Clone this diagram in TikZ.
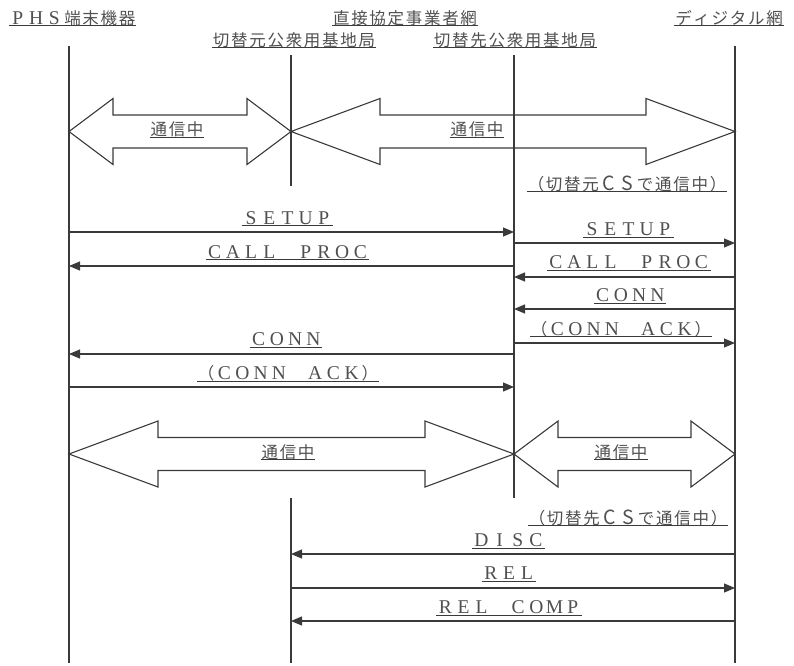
\documentclass[tikz,border=0pt]{standalone}
\usepackage{fontspec}
\setmainfont{Liberation Serif}
\newfontfamily\jpf{Noto Sans CJK JP}
\usetikzlibrary{arrows.meta}
\definecolor{txt}{HTML}{505050}
\definecolor{ln}{HTML}{3A3A3A}
\newlength\cellw \setlength\cellw{18.2pt}
\makeatletter
\def\fwl#1{\fwl@x#1\fwl@end}
\def\fwl@end{\fwl@end}
\def\fwl@x#1{\ifx#1\fwl@end\else\makebox[\cellw]{#1}\expandafter\fwl@x\fi}
\makeatother
\newcommand\lat{\fontsize{19.5}{19.5}\selectfont}
\newcommand\jp{\jpf\fontsize{16.5}{16.5}\selectfont}
\newcommand\ulx[1]{\sbox0{#1}\rlap{\color{ln}\rule[-2.2pt]{\wd0}{0.9pt}}\usebox0}
\begin{document}
\begin{tikzpicture}[x=1pt,y=-1pt,
  life/.style={draw=ln,line width=1.1pt},
  msg/.style={draw=ln,line width=1.1pt,-{Triangle[length=11pt,width=9pt]}},
  big/.style={draw=ln,line width=1.1pt,line join=miter},
  lbl/.style={text=txt,inner sep=0pt,anchor=base}]
\useasboundingbox (0,0) rectangle (794,665);
% lifelines
\coordinate (phsT) at (69,46);  \coordinate (phsB) at (69,663);
\coordinate (digT) at (735,46); \coordinate (digB) at (735,663);
\coordinate (csaT) at (291,55); \coordinate (csaM) at (291,186);
\coordinate (csaU) at (291,498); \coordinate (csaB) at (291,663);
\coordinate (csbT) at (514,55); \coordinate (csbB) at (514,498);
\draw[life] (phsT) -- (phsB);
\draw[life] (digT) -- (digB);
\draw[life] (csaT) -- (csaM);
\draw[life] (csaU) -- (csaB);
\draw[life] (csbT) -- (csbB);
% headers
\node[lbl] (hPHS) at (72.5,24) {\ulx{{\lat\fwl{PHS}}{\jp\fwl{端末機器}}}};
\node[lbl] (hNet) at (405,24) {\ulx{\jp\fwl{直接協定事業者網}}};
\node[lbl] (hDig) at (729,24) {\ulx{\jp\fwl{ディジタル網}}};
\node[lbl] (hCSa) at (294,46) {\ulx{\jp\fwl{切替元公衆用基地局}}};
\node[lbl] (hCSb) at (515,46) {\ulx{\jp\fwl{切替先公衆用基地局}}};
% double arrows
\newcommand\dblarrow[4]{%
  \draw[big] (#1,#3) -- (#1+#4,#3-33) -- (#1+#4,#3-16.5) -- (#2-#4,#3-16.5)
    -- (#2-#4,#3-33) -- (#2,#3) -- (#2-#4,#3+33) -- (#2-#4,#3+16.5)
    -- (#1+#4,#3+16.5) -- (#1+#4,#3+33) -- cycle;}
\dblarrow{69}{291}{131.5}{44}
\dblarrow{291}{735}{131.5}{89}
\dblarrow{69}{514}{454}{89}
\dblarrow{514}{735}{454}{44}
\node[lbl] (t1) at (177,135.3) {\ulx{\jp\fwl{通信中}}};
\node[lbl] (t2) at (477,135.3) {\ulx{\jp\fwl{通信中}}};
\node[lbl] (t3) at (288,458) {\ulx{\jp\fwl{通信中}}};
\node[lbl] (t4) at (621,458) {\ulx{\jp\fwl{通信中}}};
\node[lbl] (csA) at (627,190) {\ulx{\jp\fwl{（切替元}{\lat\fwl{CS}}\fwl{で通信中）}}};
\node[lbl] (csB) at (628,524) {\ulx{\jp\fwl{（切替先}{\lat\fwl{CS}}\fwl{で通信中）}}};
% message levels
\coordinate (ySL) at (0,232); \coordinate (yCL) at (0,266);
\coordinate (yNL) at (0,354); \coordinate (yAL) at (0,387);
\coordinate (ySR) at (0,243); \coordinate (yCR) at (0,277);
\coordinate (yNR) at (0,309); \coordinate (yAR) at (0,343);
\coordinate (yD) at (0,554); \coordinate (yR) at (0,588); \coordinate (yRC) at (0,621);
\draw[msg] (phsT |- ySL) -- (csbT |- ySL);
\draw[msg] (csbT |- yCL) -- (phsT |- yCL);
\draw[msg] (csbT |- yNL) -- (phsT |- yNL);
\draw[msg] (phsT |- yAL) -- (csbT |- yAL);
\draw[msg] (csbT |- ySR) -- (digT |- ySR);
\draw[msg] (digT |- yCR) -- (csbT |- yCR);
\draw[msg] (digT |- yNR) -- (csbT |- yNR);
\draw[msg] (csbT |- yAR) -- (digT |- yAR);
\draw[msg] (digT |- yD) -- (csaB |- yD);
\draw[msg] (csaB |- yR) -- (digT |- yR);
\draw[msg] (digT |- yRC) -- (csaB |- yRC);
% message labels
\node[lbl] (lSL) at (287.5,224) {\ulx{\lat\fwl{SETUP}}};
\node[lbl] (lCL) at (287.5,258) {\ulx{\lat\fwl{CALL~PROC}}};
\node[lbl] (lNL) at (286,345.7) {\ulx{\lat\fwl{CONN}}};
\node[lbl] (lAL) at (288,379.7) {\ulx{{\jp\fwl{（}}{\lat\fwl{CONN~ACK}}{\jp\fwl{）}}}};
\node[lbl] (lSR) at (628.5,235.3) {\ulx{\lat\fwl{SETUP}}};
\node[lbl] (lCR) at (628.7,268.3) {\ulx{\lat\fwl{CALL~PROC}}};
\node[lbl] (lNR) at (630,301.3) {\ulx{\lat\fwl{CONN}}};
\node[lbl] (lAR) at (621,335) {\ulx{{\jp\fwl{（}}{\lat\fwl{CONN~ACK}}{\jp\fwl{）}}}};
\node[lbl] (lD) at (508.7,546.3) {\ulx{\lat\fwl{DISC}}};
\node[lbl] (lR) at (509,579.7) {\ulx{\lat\fwl{REL}}};
\node[lbl] (lRC) at (509,613.3) {\ulx{\lat\fwl{REL~COMP}}};
\end{tikzpicture}
\end{document}
